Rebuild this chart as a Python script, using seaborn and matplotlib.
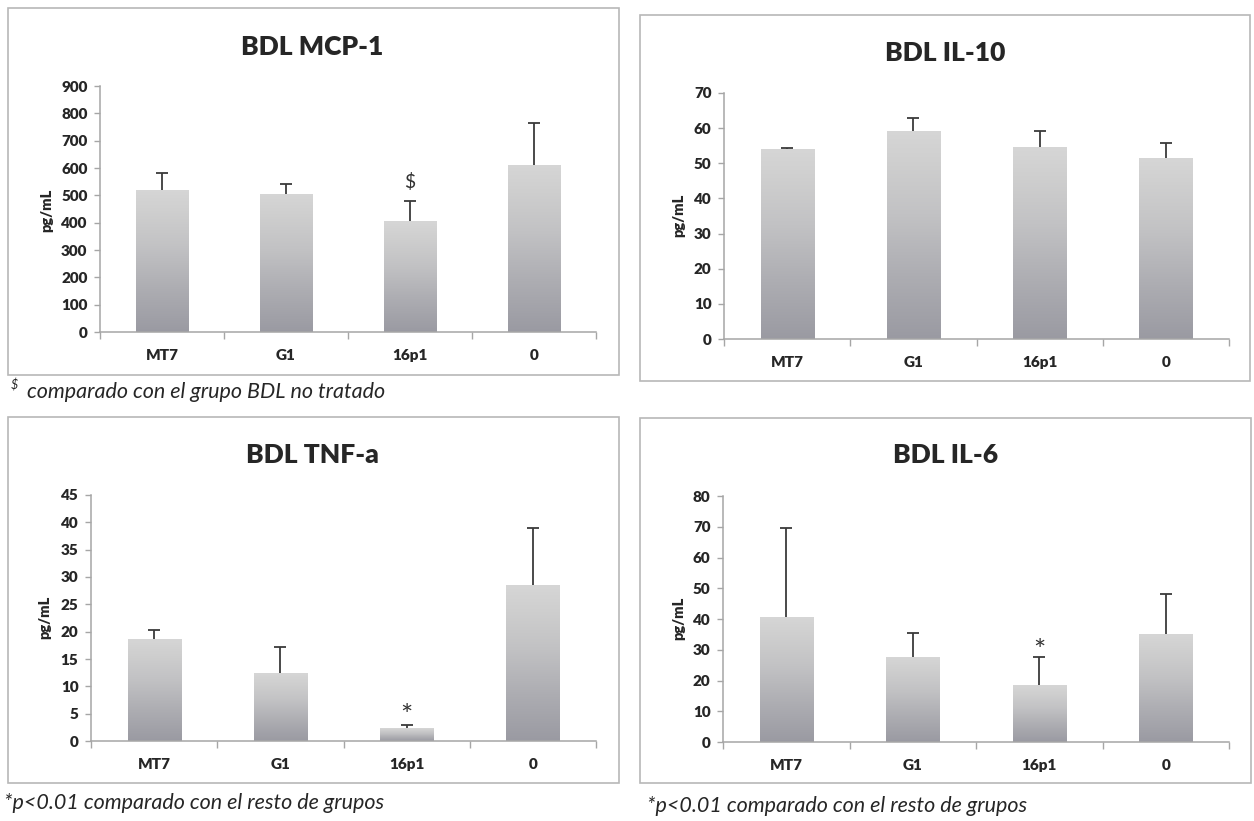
import numpy as np
import pandas as pd
import matplotlib
matplotlib.use("Agg")
import matplotlib.pyplot as plt
from matplotlib.colors import LinearSegmentedColormap
from matplotlib.patches import Rectangle
import seaborn as sns

sns.set_theme(style="white")
plt.rcParams["font.family"] = ["Lato", "DejaVu Sans"]

groups = ["MT7", "G1", "16p1", "0"]

mcp1_mean = [520, 505, 405, 612]
mcp1_err = [60, 35, 75, 151]

il10_mean = [54.0, 59.2, 54.5, 51.5]
il10_err = [0.4, 3.8, 4.6, 4.2]

tnf_mean = [18.7, 12.4, 2.3, 28.5]
tnf_err = [1.6, 4.8, 0.7, 10.5]

il6_mean = [40.8, 27.8, 18.5, 35.0]
il6_err = [28.7, 7.7, 9.0, 13.0]

W, H = 1254, 821
fig = plt.figure(figsize=(W / 100, H / 100), dpi=100)
fig.patch.set_facecolor("white")

bar_cmap = LinearSegmentedColormap.from_list(
    "bar_grad",
    [(0.0, "#9a9aa2"), (0.3, "#adadb2"), (0.6, "#c2c2c4"), (0.85, "#cfcfcf"), (1.0, "#d6d6d6")],
)

TEXT = "#262626"


def px_axes(left, right, top, bottom):
    return fig.add_axes([left / W, 1 - bottom / H, (right - left) / W, (bottom - top) / H])


def frame(left, right, top, bottom):
    fig.patches.append(Rectangle((left / W, 1 - bottom / H), (right - left) / W,
                                 (bottom - top) / H, transform=fig.transFigure,
                                 fill=False, edgecolor="#b8b8b8", lw=1.2, zorder=0))


def panel(ax, title, means, errs, ymax, ystep, title_xy, ylabel_xy, mark=None):
    df = pd.DataFrame({"group": groups, "value": means})
    sns.barplot(data=df, x="group", y="value", ax=ax, width=0.42,
                color="#c0c0c0", errorbar=None, saturation=1)
    grad = np.linspace(0, 1, 256).reshape(-1, 1)
    for p in ax.patches:
        x0 = p.get_x()
        w, h = p.get_width(), p.get_height()
        p.set_facecolor("none")
        p.set_edgecolor("none")
        im = ax.imshow(grad, cmap=bar_cmap, origin="lower", aspect="auto",
                       extent=[x0, x0 + w, 0, h], zorder=1, interpolation="bilinear")
        im.set_clip_path(p)
    xs = np.arange(len(groups))
    _, caps, _ = ax.errorbar(xs, means, yerr=[np.zeros(len(errs)), errs], fmt="none",
                             ecolor="#3a3a3a", elinewidth=1.3, capsize=4.5,
                             capthick=1.3, zorder=3)
    # keep only the upper caps
    caps[0].remove()
    ax.set_xlim(-0.5, 3.5)
    ax.set_ylim(0, ymax)
    ax.set_yticks(np.arange(0, ymax + ystep / 2, ystep))
    ax.set_xlabel("")
    ax.set_ylabel("")
    for s in ["top", "right"]:
        ax.spines[s].set_visible(False)
    for s in ["left", "bottom"]:
        ax.spines[s].set_color("#a6a6a6")
        ax.spines[s].set_linewidth(1.1)
    ax.set_xticks(np.arange(-0.5, 4, 1.0), minor=True)
    ax.tick_params(axis="x", which="major", length=0, pad=12, labelsize=11,
                   labelcolor=TEXT)
    ax.tick_params(axis="x", which="minor", length=5, width=1, color="#a6a6a6",
                   direction="out", bottom=True)
    ax.tick_params(axis="y", length=4, width=1, color="#a6a6a6", direction="out",
                   left=True, pad=5, labelsize=11, labelcolor=TEXT)
    for t in ax.get_xticklabels() + ax.get_yticklabels():
        t.set_fontweight("heavy")
    ax.patch.set_alpha(0)
    fig.text(title_xy[0] / W, 1 - title_xy[1] / H, title, ha="center", va="center",
             fontsize=19, fontweight="heavy", color=TEXT)
    fig.text(ylabel_xy[0] / W, 1 - ylabel_xy[1] / H, "pg/mL", ha="center", va="center",
             rotation=90, fontsize=10.5, fontweight="heavy", color=TEXT)
    if mark is not None:
        sym, idx, yv, fs = mark
        ax.text(idx, yv, sym, ha="center", va="center", fontsize=fs,
                color="#333333", zorder=4)


# MCP-1
frame(8, 619, 8, 375)
ax1 = px_axes(100, 596, 86, 332)
panel(ax1, "BDL MCP-1", mcp1_mean, mcp1_err, 900, 100, (312, 47), (47, 210),
      mark=("\\$", 2, 550, 14))

# IL-10
frame(640, 1250, 15, 381)
ax2 = px_axes(724, 1229, 93, 339)
panel(ax2, "BDL IL-10", il10_mean, il10_err, 70, 10, (945, 53), (679, 215))

# TNF-a
frame(8, 619, 417, 783)
ax3 = px_axes(91, 596, 495, 741)
panel(ax3, "BDL TNF-a", tnf_mean, tnf_err, 45, 5, (312, 455), (45, 617),
      mark=("*", 2, 4.4, 21))

# IL-6
frame(640, 1251, 418, 783)
ax4 = px_axes(723, 1229, 496, 742)
panel(ax4, "BDL IL-6", il6_mean, il6_err, 80, 10, (946, 455), (679, 618),
      mark=("*", 2, 29.4, 21))

# footnotes
FN = 15.5
fig.text(11 / W, 1 - 385 / H, "\\$", fontsize=9, style="italic", color=TEXT,
         ha="left", va="center")
fig.text(27 / W, 1 - 392 / H, "comparado con el grupo BDL no tratado", fontsize=FN,
         style="italic", color=TEXT, ha="left", va="center")
fig.text(4 / W, 1 - 803 / H, "*p<0.01 comparado con el resto de grupos", fontsize=FN,
         style="italic", color=TEXT, ha="left", va="center")
fig.text(647 / W, 1 - 806 / H, "*p<0.01 comparado con el resto de grupos", fontsize=FN,
         style="italic", color=TEXT, ha="left", va="center")

fig.savefig("out.png", dpi=100, facecolor="white")
